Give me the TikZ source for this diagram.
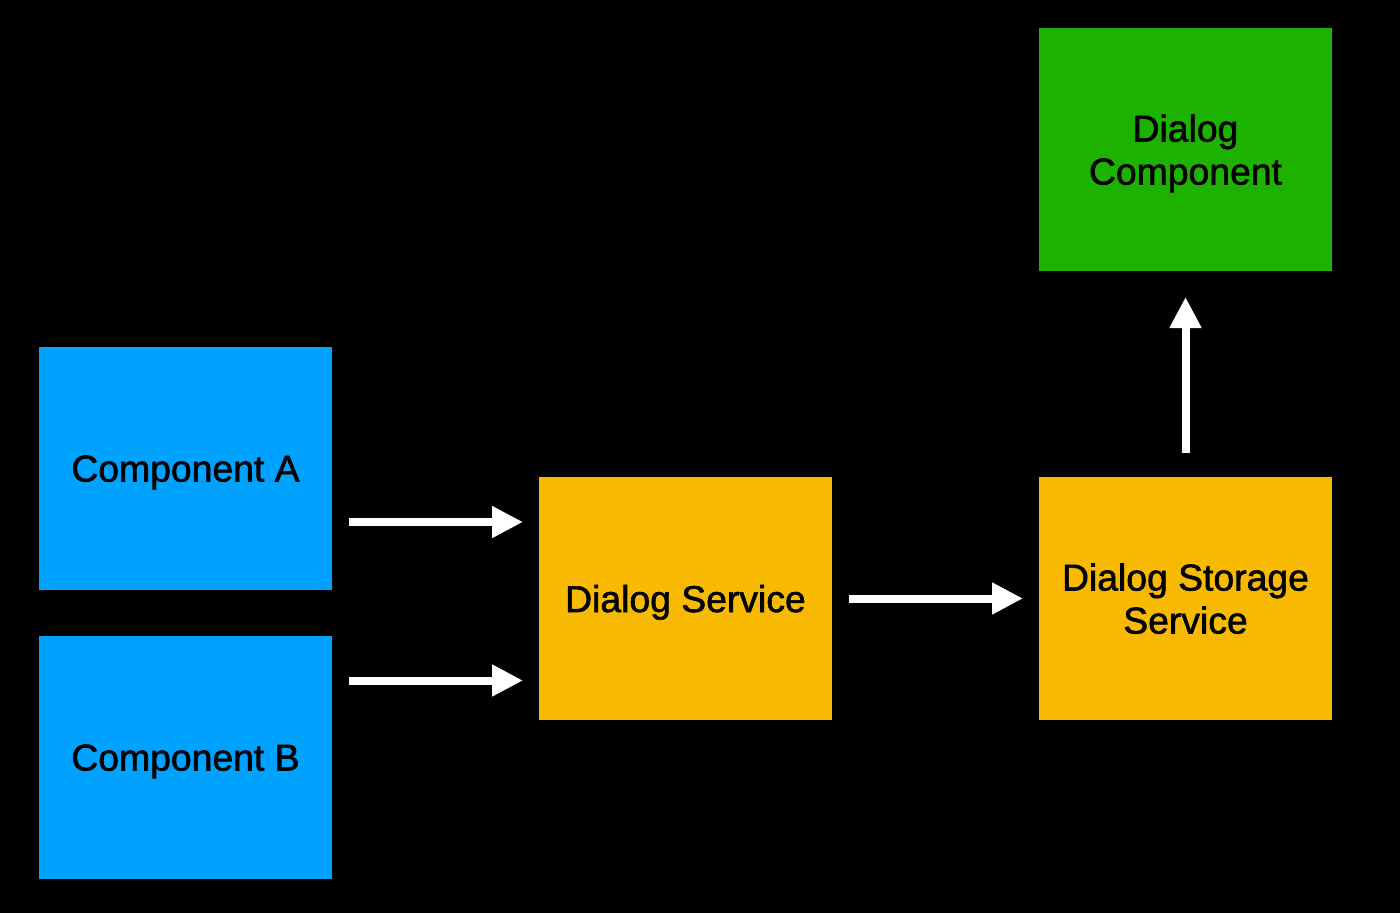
\documentclass[tikz,border=0pt]{standalone}
\usepackage{fontspec}
\setmainfont{Liberation Sans}[RawFeature={embolden=1.6}]
\usetikzlibrary{arrows.meta,positioning}
\definecolor{compblue}{HTML}{00A2FF}
\definecolor{servorange}{HTML}{F8BA00}
\definecolor{dialoggreen}{HTML}{1DB100}
\begin{document}
\begin{tikzpicture}[>={Triangle[length=23.25pt,width=22.5pt]},line width=6pt,
    main node/.style={rectangle,inner sep=0pt,outer sep=0pt,minimum width=219.75pt,
      minimum height=182.25pt,align=center,text depth=0pt,
      font=\fontsize{28}{32.25}\selectfont},
    flow/.style={->,draw=white,shorten <=12.75pt,shorten >=12pt}]
    \fill[black] (0,0) rectangle (1050pt,-684.75pt);
    \node[main node,fill=compblue] (1) at (139.125pt,-351.375pt) {Component A};
    \node[main node,fill=compblue] (2) [below=34.5pt of 1] {Component B};
    \node[main node,fill=servorange] (3) at (514.125pt,-448.875pt) {Dialog Service};
    \node[main node,fill=servorange] (4) [right=155.25pt of 3] {Dialog Storage\\Service};
    \node[main node,fill=dialoggreen] (5) [above=154.5pt of 4] {Dialog\\Component};
    \draw[flow] ([yshift=-40.125pt]1.east) -- ([yshift=-40.125pt]1.east -| 3.west);
    \draw[flow] ([yshift=57.75pt]2.east) -- ([yshift=57.75pt]2.east -| 3.west);
    \draw[flow] (3) -- (4);
    \draw[flow,shorten <=18pt,shorten >=19.5pt] (4) -- (5);
\end{tikzpicture}
\end{document}
